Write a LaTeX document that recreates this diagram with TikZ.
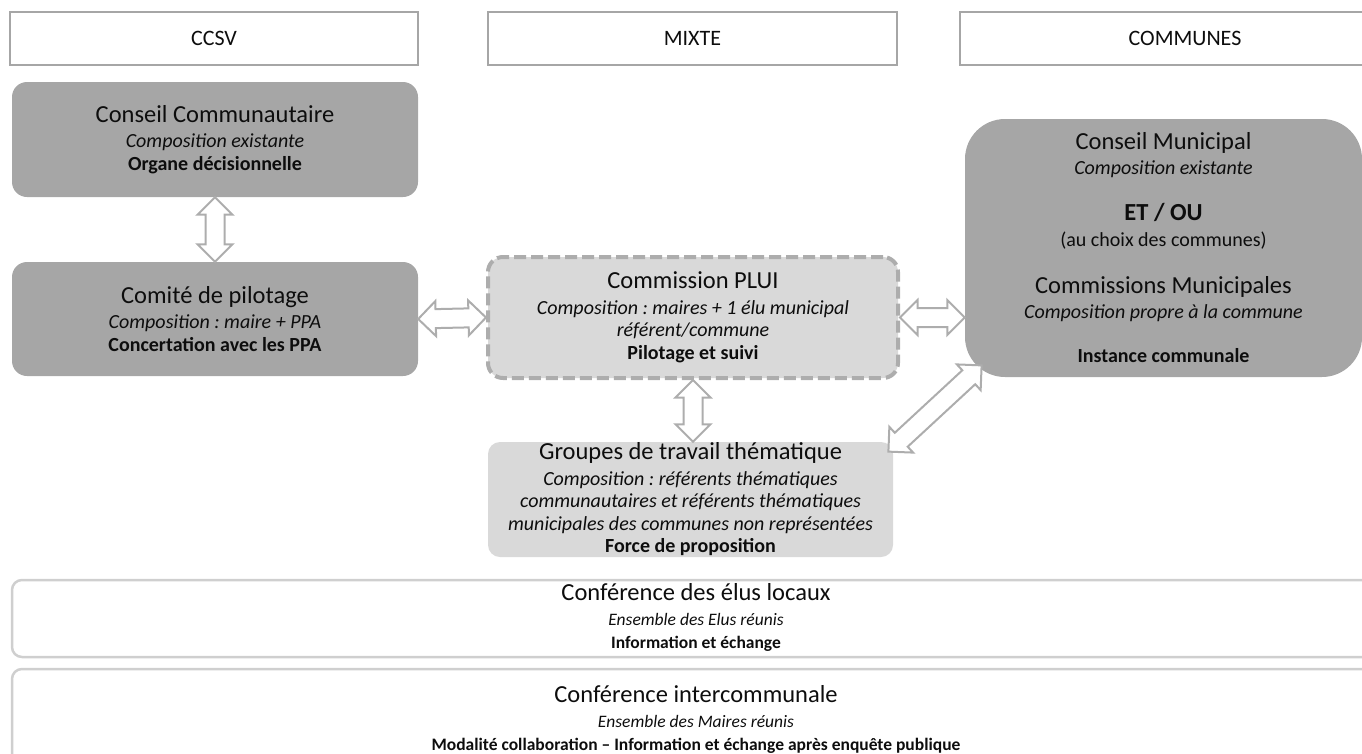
\documentclass[tikz,border=0pt]{standalone}
\usepackage{fontspec}
\setmainfont{Carlito}
\usepackage{tikz}
\usetikzlibrary{shapes.arrows,calc}
\definecolor{dk}{HTML}{A6A6A6}
\definecolor{lt}{HTML}{D9D9D9}
\definecolor{ln}{HTML}{ADADAD}
\definecolor{fr}{HTML}{CFCFCF}
\definecolor{tx}{HTML}{0D0D0D}
\frenchspacing

\newcommand\ttl[1]{{\fontsize{24.5}{22.5}\selectfont #1}}
\newcommand\twoway[2]{%
  \path let \p1=($(#2)-(#1)$), \n1={veclen(\x1,\y1)} in
    (#1) -- node[dbl, sloped, minimum height=\n1]{} (#2);}

\begin{document}
\begin{tikzpicture}[
    x=1pt, y=-1pt,
    every node/.style={text=tx},
    box/.style={rounded corners=15pt, align=center, inner sep=0pt,
                font=\fontsize{20}{22.5}\selectfont},
    hdr/.style={draw=dk, line width=2pt, minimum height=53pt,
                font=\fontsize{22}{22}\selectfont},
    dark/.style={box, fill=dk},
    pale/.style={box, fill=lt},
    conf/.style={box, draw=fr, line width=2.5pt, rounded corners=10pt,
                 font=\fontsize{17.5}{22.5}\selectfont},
    dbl/.style={double arrow, draw=ln, fill=white, line width=2pt,
                inner sep=8.5pt, double arrow head extend=8pt}
]
\useasboundingbox (0,0) rectangle (1362,753);

% column headers
\node[hdr, minimum width=408pt] (ccsv)  at (214,38.5)   {CCSV};
\node[hdr, minimum width=409pt] (mixte) at (692.5,38.5) {MIXTE};
\node[hdr, minimum width=450pt] (comm)  at (1185,38.5)  {COMMUNES};

% instances
\node[dark, minimum width=406pt, minimum height=115pt] (cc) at (215,139.5)
  {\ttl{Conseil Communautaire}\\[3pt]
   \textit{Composition existante}\\
   \textbf{Organe décisionnelle}};
\node[dark, minimum width=406pt, minimum height=114pt] (cp) at (215,319)
  {\ttl{Comité de pilotage}\\[3pt]
   \textit{Composition : maire + PPA}\\
   \textbf{Concertation avec les PPA}};
\node[pale, draw=ln, line width=4pt, dash pattern=on 12pt off 5pt,
      minimum width=410pt, minimum height=121pt] (plui) at (693,317.5)
  {\ttl{Commission PLUI}\\[3pt]
   \textit{Composition : maires + 1 élu municipal}\\
   \textit{référent/commune}\\
   \textbf{Pilotage et suivi}};
\node[dark, rounded corners=40pt, minimum width=397pt, minimum height=258pt]
  (mun) at (1163.5,248)
  {\ttl{Conseil Municipal}\\[2pt]
   \textit{Composition existante}\\[24pt]
   {\fontsize{24.5}{22.5}\selectfont\bfseries ET / OU}\\[3pt]
   (au choix des communes)\\[25pt]
   \ttl{Commissions Municipales}\\[2pt]
   \textit{Composition propre à la commune}\\[22pt]
   \textbf{Instance communale}};
\node[pale, rounded corners=12pt, minimum width=405pt, minimum height=115pt]
  (grp) at (690.5,499.5)
  {\ttl{Groupes de travail thématique}\\[3pt]
   \textit{Composition : référents thématiques}\\
   \textit{communautaires et référents thématiques}\\
   \textit{municipales des communes non représentées}\\
   \textbf{Force de proposition}};

% conferences
\node[conf, minimum width=1368pt, minimum height=77pt] (elus) at (696,618.5)
  {\ttl{Conférence des élus locaux}\\[3pt]
   \textit{Ensemble des Elus réunis}\\
   \textbf{Information et échange}\\[-17pt]\mbox{}};
\node[conf, minimum width=1368pt, minimum height=100pt] (inter) at (696,719)
  {\ttl{Conférence intercommunale}\\[3pt]
   \textit{Ensemble des Maires réunis}\\
   \textbf{Modalité collaboration -- Information et échange après enquête publique}};

% two-way links
\coordinate (pm) at (plui.east -| mun.west);
\coordinate (pg) at (plui.south |- grp.north);
\coordinate (ga) at ([shift={(-5,10)}]grp.north east);
\coordinate (ma) at ([shift={(17,-12)}]mun.south west);
\twoway{cc.south}{cp.north}
\twoway{cp.east}{plui.west}
\twoway{plui.east}{pm}
\twoway{plui.south}{pg}
\twoway{ga}{ma}
\end{tikzpicture}
\end{document}
